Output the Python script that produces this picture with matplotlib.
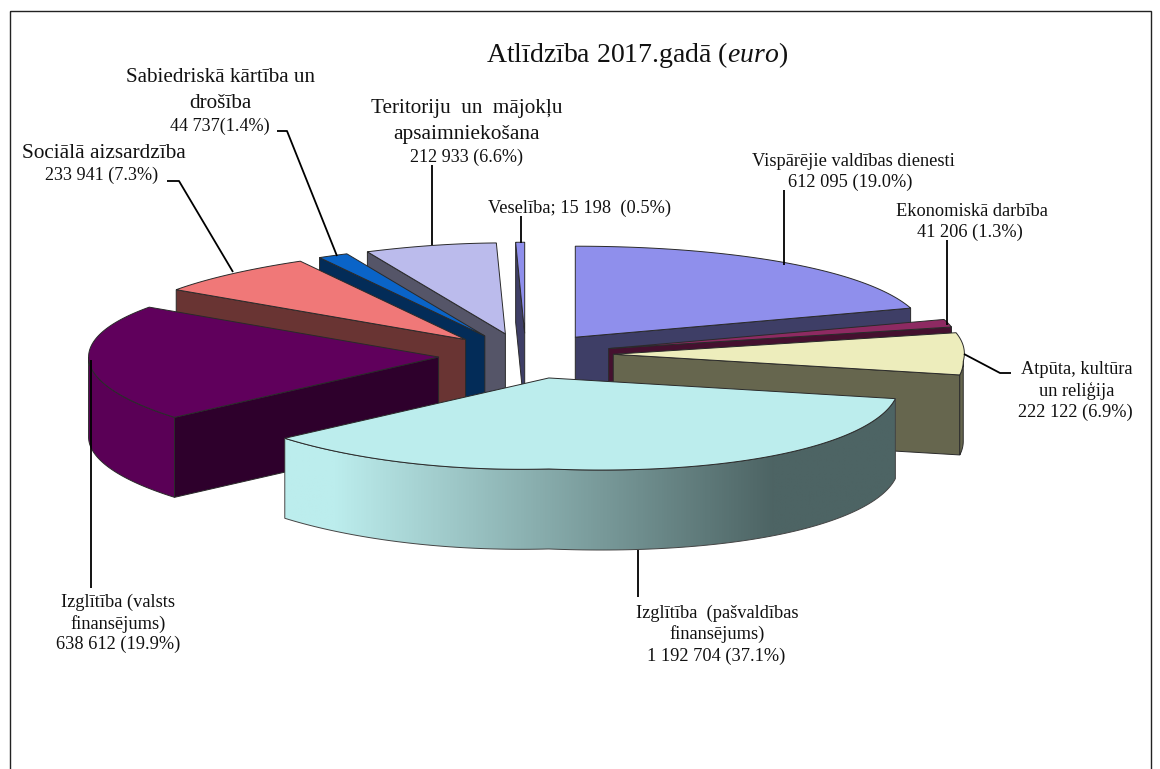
"""Exploded 3D pie: Atlidziba 2017.gada, drawn by hand since matplotlib has no 3D pie."""
import numpy as np
import matplotlib
matplotlib.use("Agg")
import matplotlib.pyplot as plt
from matplotlib.colors import LinearSegmentedColormap
from matplotlib.patches import Polygon, Rectangle

plt.rcParams["font.family"] = ["Liberation Serif", "DejaVu Serif"]
plt.rcParams["mathtext.fontset"] = "custom"
plt.rcParams["mathtext.rm"] = "Liberation Serif"
plt.rcParams["mathtext.it"] = "Liberation Serif:italic"

# clockwise from 12 o'clock
names = ["Visparejie", "Ekonomiska", "Atputa", "Izglitiba pasv", "Izglitiba valsts",
         "Sociala", "Sabiedriska", "Teritoriju", "Veseliba"]
values = [612095, 41206, 222122, 1192704, 638612, 233941, 44737, 212933, 15198]

top_colors = ["#8F8FEC", "#8E2A62", "#EDEDBC", "#BCEDED", "#60005C",
              "#F07878", "#0A64C8", "#BBBBEC", "#8F8FEC"]
cut_colors = ["#3E3E66", "#45102F", "#66664E", "#4D6666", "#2E002C",
              "#693433", "#032C58", "#555568", "#3E3E66"]
wall_colors = ["#3E3E66", "#45102F", "#66664E", "#4D6666", "#5A0056",
               "#693433", "#032C58", "#555568", "#3E3E66"]
draw_order = [8, 7, 6, 5, 0, 1, 2, 4, 3]  # back to front

# text, centre x, centre y, font size
label_lines = [
    ("Vispārējie valdības dienesti", 853, 162, 13.2),
    ("612 095 (19.0%)", 850, 182, 13.2),
    ("Ekonomiskā darbība", 972, 211, 13.2),
    ("41 206 (1.3%)", 970, 232, 13.2),
    ("Atpūta, kultūra", 1077, 369, 13.2),
    ("un reliģija", 1077, 391, 13.2),
    ("222 122 (6.9%)", 1075, 412, 13.2),
    ("Izglītība  (pašvaldības", 717, 613, 13.2),
    ("finansējums)", 717, 634, 13.2),
    ("1 192 704 (37.1%)", 716, 656, 13.2),
    ("Izglītība (valsts", 118, 602, 13.2),
    ("finansējums)", 118, 624, 13.2),
    ("638 612 (19.9%)", 118, 644, 13.2),
    ("Sociālā aizsardzība", 104, 153, 15.3),
    ("233 941 (7.3%)", 102, 175, 13.1),
    ("Sabiedriskā kārtība un", 220, 78, 15.2),
    ("drošība", 220, 103, 15.2),
    ("44 737(1.4%)", 220, 126, 13.1),
    ("Teritoriju  un  mājokļu", 467, 109, 15.2),
    ("apsaimniekošana", 467, 135, 15.4),
    ("212 933 (6.6%)", 467, 157, 13.1),
    ("Veselība; 15 198  (0.5%)", 580, 208, 13.2),
]
leaders = [
    [(784, 190), (784, 265)],
    [(947, 240), (947, 325)],
    [(964, 354), (1000, 373), (1011, 373)],
    [(638, 550), (638, 597)],
    [(91, 360), (91, 588)],
    [(167, 181), (179, 181), (233, 272)],
    [(277, 131), (287, 131), (337, 256)],
    [(432, 165), (432, 245)],
    [(521, 216), (521, 243)],
]

# pixel layout of the pie
CX, CY = 526, 356
RX, RY = 350, 91
EXPLODE = 0.25
DEPTH = 80
EDGE = "#2a2a2a"

fig = plt.figure(figsize=(11.6, 7.69), dpi=100)
ax = fig.add_axes([0, 0, 1, 1])


def rim(tip, angles):
    # the chart has a bit of perspective, so the ellipse is not a clean one
    sin, cos = np.sin(angles), np.cos(angles)
    left = np.where(cos < 0, 1 - 0.1 * cos ** 2, 1 - 0.13 * cos ** 4)
    right = np.where(cos > 0, 1 + 0.08 * cos, 1.0)
    stretch = np.where(sin < 0, left, right)
    sag = np.where(sin > 0, 7 * sin * (1 - cos), 0.0)
    front_left = (angles > np.pi) & (angles < 1.5 * np.pi)
    sag = sag + np.where(front_left, 4 * np.sin(2 * (angles - np.pi)), 0.0)
    return np.column_stack([tip[0] + RX * sin * stretch, tip[1] - RY * cos + sag])


def extrude(pts):
    lower = pts[::-1] + [0, DEPTH]
    return np.vstack([pts, lower])


def poly(pts, color, z):
    ax.add_patch(Polygon(pts, closed=True, facecolor=color, edgecolor=EDGE, linewidth=0.7, zorder=z))


shares = np.array(values) / sum(values)
edges = np.concatenate([[0], np.cumsum(shares)]) * 2 * np.pi
z = 2
for i in draw_order:
    t0, t1 = edges[i], edges[i + 1]
    mid = (t0 + t1) / 2
    tip = (CX + EXPLODE * RX * np.sin(mid), CY - EXPLODE * RY * np.cos(mid))
    tip_pt = np.array([tip])

    # cut faces, only those turned to the viewer
    if np.sin(t0) < 0:
        poly(extrude(np.vstack([tip_pt, rim(tip, np.array([t0]))])), cut_colors[i], z)
    if np.sin(t1) > 0:
        poly(extrude(np.vstack([tip_pt, rim(tip, np.array([t1]))])), cut_colors[i], z)

    # outer wall, front half of the ellipse only
    a0, a1 = max(t0, np.pi / 2), min(t1, 3 * np.pi / 2)
    if a1 > a0:
        wall = extrude(rim(tip, np.linspace(a0, a1, 120)))
        if names[i] == "Izglitiba pasv":
            cmap = LinearSegmentedColormap.from_list(
                "wall", [(0, "#BCEDED"), (0.08, "#BCEDED"), (0.8, "#4D6464"), (1, "#4D6464")])
            grad = np.linspace(0, 1, 512).reshape(1, -1)
            x0, x1 = wall[:, 0].min(), wall[:, 0].max()
            y0, y1 = wall[:, 1].min(), wall[:, 1].max()
            img = ax.imshow(grad, cmap=cmap, extent=(x0, x1, y1, y0), aspect="auto", zorder=z)
            clip = Polygon(wall, closed=True, facecolor="none", edgecolor="#444444", linewidth=0.7, zorder=z + 0.5)
            ax.add_patch(clip)
            img.set_clip_path(clip)
        else:
            poly(wall, wall_colors[i], z)

    # top surface
    poly(np.vstack([tip_pt, rim(tip, np.linspace(t0, t1, 200))]), top_colors[i], z + 1)
    z += 2

ax.add_patch(Rectangle((9.5, 10.5), 1141, 790, facecolor="none", edgecolor="#222222", linewidth=1.0, zorder=1))

for pts in leaders:
    xs, ys = zip(*pts)
    ax.plot(xs, ys, color="black", linewidth=1.3, solid_capstyle="butt", zorder=40)

for text, x, y, size in label_lines:
    ax.text(x, y, text, ha="center", va="center", fontsize=size, color="#111111", zorder=41)

ax.text(637, 55, r"Atlīdzība 2017.gadā ($\mathit{euro}$)", ha="center", va="center",
        fontsize=20, color="#111111", zorder=41)

ax.set_xlim(0, 1160)
ax.set_ylim(769, 0)
ax.axis("off")
fig.savefig("out.png", dpi=100)
